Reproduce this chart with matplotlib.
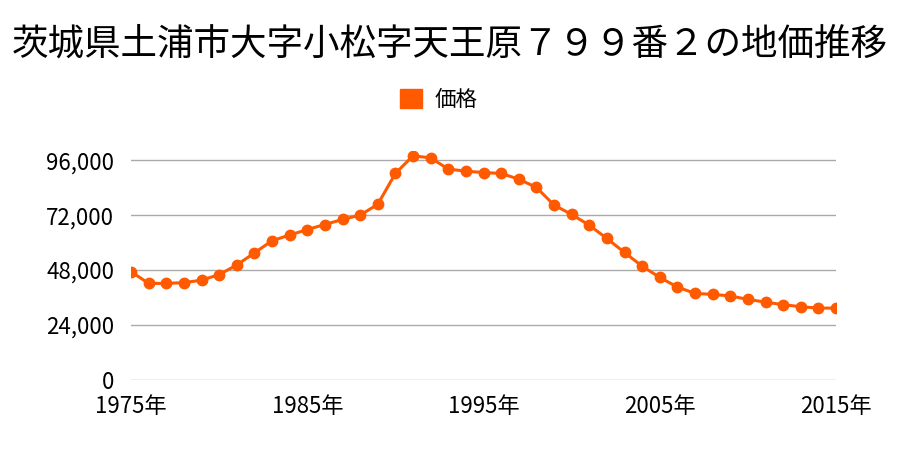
import numpy as np
import matplotlib.pyplot as plt
from matplotlib.patches import Patch

plt.rcParams['font.family'] = ['Noto Sans CJK JP', 'DejaVu Sans']

# land price by year
years = np.arange(1975, 2016)
price = np.array([
    47300, 42200, 42200, 42500, 43600, 46000, 50200, 55500, 60800, 63300,
    65700, 67900, 70100, 72000, 76700, 90200, 97900, 97000, 92100, 91200,
    90600, 90200, 87700, 84100, 76400, 72300, 67600, 61800, 55700, 49700,
    44800, 40600, 37800, 37400, 36700, 35200, 34000, 32900, 32000, 31400,
    31400,
])

xticks = [1975, 1985, 1995, 2005, 2015]
yticks = [0, 24000, 48000, 72000, 96000]
color = '#ff5a00'

fig = plt.figure(figsize=(9, 4.5), dpi=100)
ax = fig.add_axes([131 / 900, 70 / 450, 705 / 900, 229 / 450])

ax.plot(years, price, color=color, lw=2.2, marker='o', ms=7.5, zorder=3)

ax.set_xlim(1975, 2015)
ax.set_ylim(0, 100000)
ax.set_xticks(xticks)
ax.set_xticklabels([f'{y}年' for y in xticks])
ax.set_yticks(yticks)
ax.set_yticklabels([f'{v:,}' for v in yticks])
ax.tick_params(length=0, labelsize=16)
ax.tick_params(axis='x', pad=11)
ax.tick_params(axis='y', pad=12)
ax.grid(axis='y', color='#aaaaaa', lw=1)
for s in ax.spines.values():
    s.set_visible(False)

fig.text(0.5, 0.9, '茨城県土浦市大字小松字天王原７９９番２の地価推移',
         ha='center', va='center', fontsize=26.3)

fig.legend(handles=[Patch(color=color, label='価格')], loc='center',
           bbox_to_anchor=(0.488, 0.778), frameon=False, fontsize=15.5,
           handlelength=1.0, handleheight=1.0, handletextpad=0.6)

fig.savefig('out.png', dpi=100)
